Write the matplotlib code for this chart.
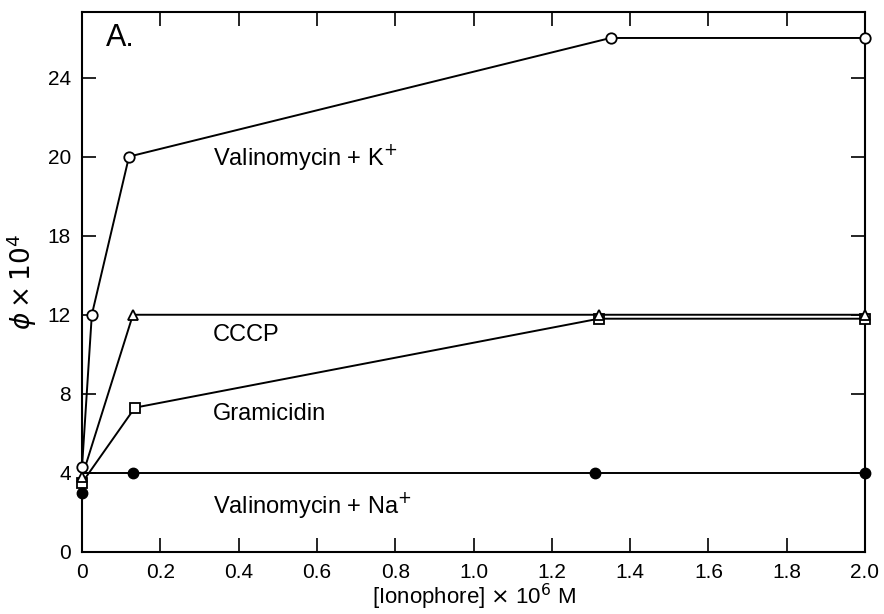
import matplotlib
matplotlib.use('Agg')
import matplotlib.pyplot as plt

# data
k_x = [0.0, 0.025, 0.12, 1.35, 2.0]
k_y = [4.3, 12.0, 20.0, 26.0, 26.0]

cccp_x = [0.0, 0.13, 1.32, 2.0]
cccp_y = [3.8, 12.0, 12.0, 12.0]

gram_x = [0.0, 0.135, 1.32, 2.0]
gram_y = [3.5, 7.3, 11.8, 11.8]

na_x = [0.0, 0.13, 1.31, 2.0]
na_y = [4.0, 4.0, 4.0, 4.0]
na_zero = 3.0

x_ticks = [0, 0.2, 0.4, 0.6, 0.8, 1.0, 1.2, 1.4, 1.6, 1.8, 2.0]
x_labels = ['0', '0.2', '0.4', '0.6', '0.8', '1.0', '1.2', '1.4', '1.6',
            '1.8', '2.0']
y_ticks = [0, 4, 8, 12, 16, 20, 24]
y_labels = ['0', '4', '8', '12', '18', '20', '24']

plt.rcParams['font.family'] = ['Liberation Sans', 'DejaVu Sans']

fig = plt.figure(figsize=(8.84, 6.14), dpi=100)
ax = fig.add_axes([0.0928, 0.101, 0.8857, 0.879])

lw = 1.4
ms = 7.5
ax.plot(k_x, k_y, color='black', lw=lw, marker='o', ms=ms,
        mfc='white', mec='black', mew=1.3, zorder=4, clip_on=False)
ax.plot(gram_x, gram_y, color='black', lw=lw, marker='s', ms=ms - 1,
        mfc='white', mec='black', mew=1.3, zorder=3, clip_on=False)
ax.plot(cccp_x, cccp_y, color='black', lw=lw, marker='^', ms=ms,
        mfc='white', mec='black', mew=1.3, zorder=3, clip_on=False)
ax.plot(na_x, na_y, color='black', lw=lw, zorder=2)
ax.plot(na_x[1:], na_y[1:], ls='none', marker='o', ms=ms,
        color='black', zorder=3, clip_on=False)
ax.plot([na_x[0]], [na_zero], ls='none', marker='o', ms=ms,
        color='black', zorder=3, clip_on=False)

ax.set_xlim(0, 2.0)
ax.set_ylim(0, 27.3)
ax.set_xticks(x_ticks)
ax.set_xticklabels(x_labels)
ax.set_yticks(y_ticks)
ax.set_yticklabels(y_labels)
ax.tick_params(direction='in', length=10, width=1.2, top=True, right=True,
               labelsize=15, pad=8)
for s in ax.spines.values():
    s.set_linewidth(1.5)

ax.set_xlabel('[Ionophore] $\\times$ 10$^{6}$ M', fontsize=16, labelpad=0)
ax.set_ylabel('$\\phi \\times 10^{4}$', fontsize=19, labelpad=6)

ax.text(0.06, 26.0, 'A.', fontsize=22, va='center')
ax.text(0.335, 20.0, 'Valinomycin + K$^{+}$', fontsize=17, va='center')
ax.text(0.335, 11.0, 'CCCP', fontsize=17, va='center')
ax.text(0.335, 7.0, 'Gramicidin', fontsize=17, va='center')
ax.text(0.335, 2.4, 'Valinomycin + Na$^{+}$', fontsize=17, va='center')

fig.savefig('out.png', dpi=100)
